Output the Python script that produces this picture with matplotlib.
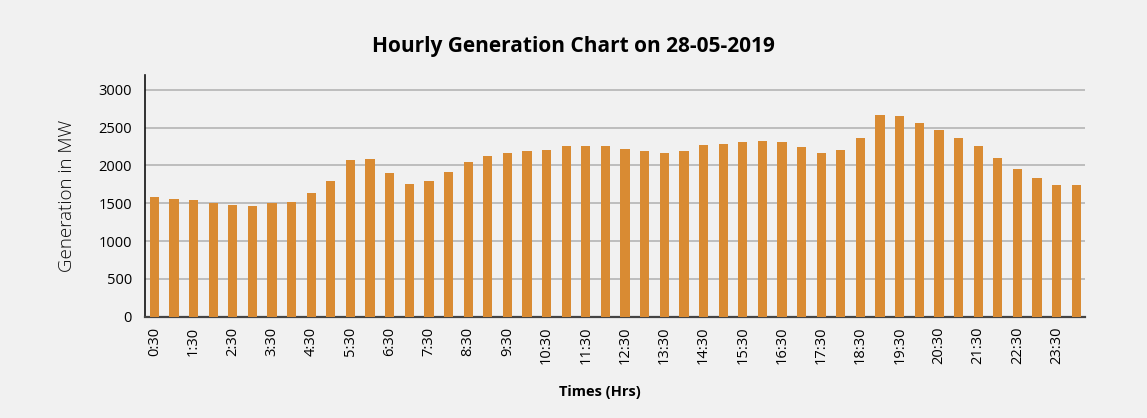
import matplotlib
matplotlib.use("Agg")
import matplotlib.pyplot as plt
import numpy as np

plt.rcParams['font.family'] = ['Open Sans', 'DejaVu Sans']

times = ['0:30', '1:00', '1:30', '2:00', '2:30', '3:00', '3:30', '4:00',
         '4:30', '5:00', '5:30', '6:00', '6:30', '7:00', '7:30', '8:00',
         '8:30', '9:00', '9:30', '10:00', '10:30', '11:00', '11:30', '12:00',
         '12:30', '13:00', '13:30', '14:00', '14:30', '15:00', '15:30', '16:00',
         '16:30', '17:00', '17:30', '18:00', '18:30', '19:00', '19:30', '20:00',
         '20:30', '21:00', '21:30', '22:00', '22:30', '23:00', '23:30', '24:00']

generation = [1581, 1555, 1542, 1502, 1476, 1462, 1502, 1515,
              1634, 1793, 2070, 2084, 1899, 1753, 1793, 1912,
              2044, 2123, 2163, 2189, 2203, 2255, 2255, 2255,
              2216, 2189, 2163, 2189, 2269, 2282, 2308, 2321,
              2308, 2242, 2163, 2203, 2361, 2665, 2652, 2559,
              2467, 2361, 2255, 2097, 1951, 1832, 1740, 1740]

y_ticks = [0, 500, 1000, 1500, 2000, 2500, 3000]

bg = '#f1f1f1'
fig = plt.figure(figsize=(11.47, 4.18), dpi=100, facecolor=bg)
ax = fig.add_axes([0.126, 0.2423, 0.82, 0.5792], facecolor=bg)

x = np.arange(len(times))
ax.bar(x, generation, width=0.47, color='#d98b33', zorder=3)

ax.set_xlim(-0.5, len(times) - 0.55)
ax.set_ylim(0, 3200)
ax.set_yticks(y_ticks)
ax.set_yticklabels([str(v) for v in y_ticks], fontsize=10.5)
ax.set_xticks(x[::2])
ax.set_xticklabels(times[::2], rotation=90, fontsize=10.5)
ax.tick_params(axis='both', length=0)
ax.tick_params(axis='x', pad=7)
ax.tick_params(axis='y', pad=9)

ax.yaxis.grid(True, color='#bdbdbd', linewidth=1.4, zorder=0)
ax.set_axisbelow(True)

for s in ['top', 'right']:
    ax.spines[s].set_visible(False)
ax.spines['left'].set_color('#111111')
ax.spines['left'].set_linewidth(1.2)
ax.spines['bottom'].set_color('#444444')
ax.spines['bottom'].set_linewidth(1.6)

ax.set_ylabel('Generation in MW', fontsize=13.5, fontweight='light',
              color='#0a0a0a', labelpad=16)
ax.set_xlabel('Times (Hrs)', fontsize=10.5, fontweight='bold')
ax.xaxis.set_label_coords(0.484, -0.28)
fig.suptitle('Hourly Generation Chart on 28-05-2019', x=0.5, y=0.915,
             fontsize=15, fontweight='bold')

fig.savefig('out.png', dpi=100, facecolor=bg)
